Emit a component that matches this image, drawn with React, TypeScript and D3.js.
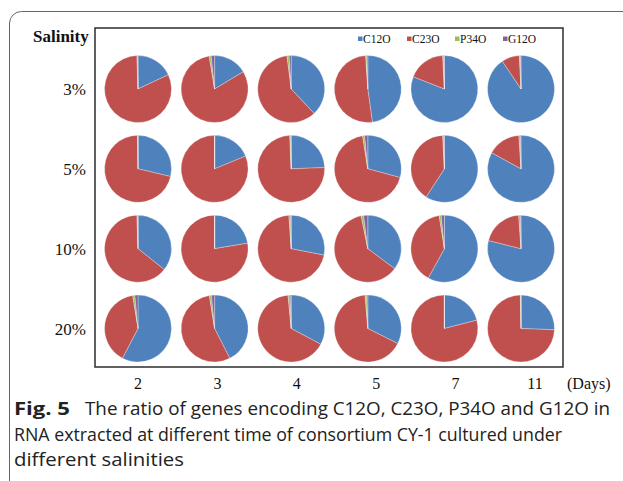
import React from "react";
import * as d3 from "d3";

const series = ["C12O", "C23O", "P34O", "G12O"];
const colors = ["#4F81BD", "#C0504D", "#9BBB59", "#8064A2"];
const days = ["2", "3", "4", "5", "7", "11"];
const salinities = ["3%", "5%", "10%", "20%"];

// values per salinity row, per day: [C12O, C23O, P34O, G12O]
const row3 = [
  [18, 81.5, 0.3, 0.2],
  [16.4, 81, 1, 1.6],
  [38, 60, 1, 1],
  [47.8, 51.2, 0.5, 0.5],
  [81, 18.2, 0.5, 0.3],
  [90.6, 8.6, 0.5, 0.3],
];
const row5 = [
  [28.7, 71.1, 0.2, 0],
  [18.8, 81.2, 0, 0],
  [24.4, 74.9, 0.5, 0.2],
  [29.2, 68.3, 1, 1.5],
  [59.2, 40, 0.5, 0.3],
  [83, 16, 0.7, 0.3],
];
const row10 = [
  [35.7, 63.8, 0.5, 0],
  [22.4, 77.6, 0, 0],
  [28.1, 70.8, 0.8, 0.3],
  [35.2, 61.6, 1.2, 2],
  [58, 39.5, 1, 1.5],
  [78.9, 20, 0.8, 0.3],
];
const row20 = [
  [57.7, 39.8, 1, 1.5],
  [42.5, 55, 1, 1.5],
  [32.8, 65.7, 1, 0.5],
  [32.4, 66.3, 0.8, 0.5],
  [21, 79, 0, 0],
  [25.6, 74.1, 0.3, 0],
];
const rows = [row3, row5, row10, row20];

const W = 623;
const H = 481;

export default function App() {
  const x = d3.scalePoint<string>().domain(days).range([138, 521]);
  // the day tick labels sit on a slightly wider axis than the pies
  const xl = d3.scaleLinear().domain([0, 5]).range([138, 535]);
  const y = d3.scalePoint<string>().domain(salinities).range([89, 328.5]);
  const r = 33.5;
  const pie = d3
    .pie<number>()
    .sort(null)
    .value((d) => d);
  const arc = d3.arc<d3.PieArcDatum<number>>().innerRadius(0).outerRadius(r);

  const serif = "'Liberation Serif', 'Times New Roman', serif";
  const sans = "'Open Sans', 'Noto Sans', sans-serif";

  const legendX = [358, 407, 455, 503];
  const capX = 14;

  return (
    <svg
      width={W}
      height={H}
      style={{ position: "absolute", left: 0, top: 0, background: "#fff" }}
    >
      <rect x={0} y={0} width={W} height={H} fill="#fff" />
      {/* outer frame */}
      <path
        d={`M 9.5 ${H} L 9.5 23 A 12 12 0 0 1 21.5 11.5 L ${W} 11.5`}
        fill="none"
        stroke="#666"
        strokeWidth={1}
      />
      {/* plot box */}
      <rect
        x={95}
        y={28}
        width={468}
        height={339}
        fill="#fff"
        stroke="#3a3a3a"
        strokeWidth={1.6}
      />
      <text
        x={33}
        y={42}
        fontFamily={serif}
        fontWeight="bold"
        fontSize={17}
        fill="#111"
      >
        Salinity
      </text>
      {/* legend */}
      {series.map((s, i) => (
        <g key={s}>
          <rect x={legendX[i]} y={36.5} width={4.5} height={4.5} fill={colors[i]} />
          <text
            x={legendX[i] + 5}
            y={43}
            fontFamily={serif}
            fontSize={11.5}
            fill="#111"
          >
            {s}
          </text>
        </g>
      ))}
      {/* row labels */}
      {salinities.map((s) => (
        <text
          key={s}
          x={86}
          y={(y(s) as number) + 6}
          textAnchor="end"
          fontFamily={serif}
          fontSize={17}
          fill="#111"
        >
          {s}
        </text>
      ))}
      {/* column labels */}
      {days.map((d, i) => (
        <text
          key={d}
          x={xl(i)}
          y={389}
          textAnchor="middle"
          fontFamily={serif}
          fontSize={16}
          fill="#111"
        >
          {d}
        </text>
      ))}
      <text x={567} y={389} fontFamily={serif} fontSize={16} fill="#111">
        (Days)
      </text>
      {/* pies */}
      {rows.map((row, ri) =>
        row.map((vals, ci) => {
          const cx = x(days[ci]) as number;
          const cy = y(salinities[ri]) as number;
          return (
            <g key={`${ri}-${ci}`} transform={`translate(${cx},${cy})`}>
              {pie(vals).map((a, k) => (
                <path
                  key={k}
                  d={arc(a) || ""}
                  fill={colors[k]}
                  stroke="#fff"
                  strokeWidth={0.3}
                />
              ))}
            </g>
          );
        })
      )}
      {/* caption */}
      <text
        x={capX}
        y={415}
        fontFamily={sans}
        fontSize={18}
        fontWeight="bold"
        fill="#222"
        textLength={56}
        lengthAdjust="spacingAndGlyphs"
      >
        Fig. 5
      </text>
      <text
        x={capX + 71}
        y={415}
        fontFamily={sans}
        fontSize={18}
        fill="#222"
        textLength={525}
        lengthAdjust="spacingAndGlyphs"
      >
        The ratio of genes encoding C12O, C23O, P34O and G12O in
      </text>
      <text
        x={capX}
        y={441}
        fontFamily={sans}
        fontSize={18}
        fill="#222"
        textLength={548}
        lengthAdjust="spacingAndGlyphs"
      >
        RNA extracted at different time of consortium CY-1 cultured under
      </text>
      <text
        x={capX}
        y={466}
        fontFamily={sans}
        fontSize={18}
        fill="#222"
        textLength={170}
        lengthAdjust="spacingAndGlyphs"
      >
        different salinities
      </text>
    </svg>
  );
}
